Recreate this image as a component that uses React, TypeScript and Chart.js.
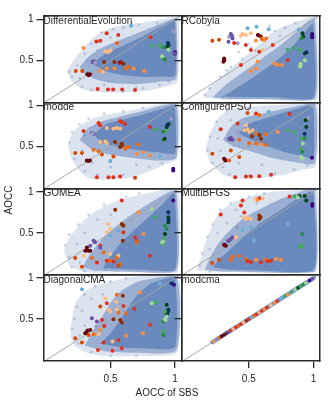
import React, { useEffect, useRef } from 'react';
import { Chart, registerables } from 'chart.js';

Chart.register(...registerables);
Chart.defaults.font.family = "'Liberation Sans', Arial, sans-serif";
Chart.defaults.font.size = 10;

const W = 334;
const H = 400;
const X_MIN = -0.02;
const X_MAX = 1.05;
const Y_MIN = -0.01;
const Y_MAX = 1.04;
const TICK_VALUES = [0.5, 1];
const TICK_LABELS = ['0.5', '1'];
const identityLine = [-0.1, 1.2];
const COL_X = [43.5, 181.5, 320];
const ROW_Y = [16, 102.25, 188.5, 274.75, 361];
const TEXT = '#262626';
const SPINE = '#2b2b2b';
const BLUE = '76,114,176';

const PALETTE: Record<string, string> = {
  dm: '#67000d', br: '#8c2d04', dr: '#a50f15', rd: '#e0301e', or: '#f16913',
  do: '#d94801', lo: '#fd8d3c', sa: '#fdbb84', lb: '#6baed6', pu: '#6a51a3',
  dp: '#3f007d', lp: '#9e9ac8', gr: '#41ab5d', mg: '#238b45', dg: '#00441b',
  lg: '#a1d99b', nv: '#08306b',
};

type P = [number, number, string];
type XY = [number, number];

// ---- DifferentialEvolution ----
const deHalo: XY[] = [[0.16,0.36],[0.22,0.52],[0.3,0.66],[0.38,0.8],[0.48,0.88],[0.6,0.93],[0.75,0.96],[0.9,1.0],[1.0,1.03],[1.03,1.03],[1.02,0.24],[0.92,0.18],[0.78,0.13],[0.6,0.11],[0.42,0.11],[0.28,0.15],[0.2,0.24]];
const deMid: XY[] = [[0.26,0.42],[0.34,0.56],[0.44,0.66],[0.56,0.74],[0.72,0.84],[0.88,0.94],[0.99,1.01],[1.01,0.99],[1.01,0.28],[0.88,0.24],[0.7,0.21],[0.52,0.22],[0.38,0.27],[0.3,0.33]];
const deCore: XY[] = [[0.36,0.46],[0.46,0.58],[0.6,0.68],[0.76,0.8],[0.9,0.92],[0.99,0.99],[1.0,0.95],[1.0,0.32],[0.88,0.3],[0.72,0.3],[0.56,0.33],[0.44,0.38]];
const deDots: XY[] = [[0.2,0.3],[0.24,0.44],[0.3,0.58],[0.35,0.7],[0.43,0.84],[0.52,0.88],[0.6,0.9],[0.72,0.93],[0.18,0.36],[0.28,0.18],[0.35,0.14],[0.6,0.12],[0.75,0.16],[0.88,0.2],[0.95,0.24],[0.66,0.96],[0.86,0.95],[0.26,0.28],[0.32,0.5],[0.4,0.62],[0.5,0.78],[0.45,0.2],[0.7,0.17]];
const dePoints: P[] = [
  [0.66,0.92,'lb'],[0.47,0.83,'rd'],[0.39,0.73,'rd'],[0.42,0.74,'rd'],[0.56,0.81,'rd'],[0.55,0.71,'or'],[0.81,0.78,'rd'],
  [0.48,0.6,'sa'],[0.46,0.61,'sa'],[0.5,0.62,'sa'],[0.29,0.65,'lo'],
  [0.36,0.48,'pu'],[0.37,0.49,'pu'],[0.38,0.47,'lp'],
  [0.45,0.48,'br'],[0.53,0.48,'br'],[0.58,0.48,'br'],[0.6,0.46,'br'],[0.57,0.47,'dr'],
  [0.23,0.37,'do'],[0.28,0.37,'do'],[0.42,0.37,'lo'],[0.47,0.4,'lo'],[0.53,0.4,'lo'],[0.62,0.4,'or'],[0.64,0.42,'or'],[0.68,0.4,'lo'],[0.76,0.37,'lo'],[0.44,0.36,'sa'],
  [0.32,0.33,'dm'],[0.33,0.32,'dm'],[0.34,0.33,'dm'],
  [0.4,0.15,'rd'],[0.48,0.145,'rd'],[0.52,0.145,'rd'],[0.59,0.145,'rd'],[0.69,0.14,'rd'],
  [0.82,0.68,'gr'],[0.88,0.68,'gr'],[0.91,0.66,'mg'],[0.94,0.665,'dg'],[0.95,0.69,'dg'],[0.945,0.71,'nv'],[0.95,0.63,'lg'],[0.91,0.53,'gr'],[0.92,0.51,'mg'],[0.9,0.55,'lg'],
  [1.0,0.6,'dp'],[1.0,0.58,'dp'],[1.0,0.585,'pu'],[0.99,0.85,'lp'],
];

// ---- RCobyla ----
const rcHalo: XY[] = [[0.15,0.05],[0.2,0.18],[0.3,0.32],[0.4,0.46],[0.5,0.58],[0.6,0.72],[0.68,0.84],[0.8,0.93],[0.95,1.02],[1.03,1.03],[1.03,0.02],[0.6,0.02],[0.3,0.02]];
const rcMid: XY[] = [[0.22,0.05],[0.32,0.2],[0.46,0.36],[0.6,0.52],[0.74,0.68],[0.86,0.84],[0.96,0.98],[1.01,1.01],[1.01,0.03],[0.6,0.03],[0.35,0.03]];
const rcCore: XY[] = [[0.3,0.06],[0.42,0.18],[0.56,0.32],[0.7,0.48],[0.82,0.64],[0.92,0.82],[0.99,0.95],[1.0,0.9],[1.0,0.05],[0.7,0.05],[0.45,0.05]];
const rcDots: XY[] = [[0.2,0.16],[0.28,0.3],[0.36,0.42],[0.45,0.52],[0.55,0.62],[0.62,0.75],[0.7,0.86],[0.78,0.9],[0.86,0.95],[0.5,0.7],[0.42,0.6],[0.66,0.92],[0.3,0.05],[0.16,0.08],[0.33,0.38],[0.52,0.66],[0.74,0.8],[0.58,0.82]];
const rcPoints: P[] = [
  [0.49,0.89,'lb'],[0.56,0.91,'lb'],[0.654,0.88,'lb'],[0.885,0.875,'lb'],
  [0.361,0.82,'pu'],[0.348,0.787,'lp'],[0.374,0.767,'pu'],[0.343,0.726,'pu'],[0.413,0.707,'lp'],[0.37,0.8,'pu'],
  [0.218,0.74,'do'],[0.27,0.75,'do'],
  [0.451,0.82,'sa'],[0.477,0.81,'sa'],[0.516,0.83,'sa'],[0.44,0.8,'sa'],
  [0.581,0.8,'br'],[0.594,0.79,'br'],[0.57,0.81,'dm'],
  [0.633,0.767,'or'],[0.555,0.74,'lo'],[0.62,0.745,'lo'],[0.6,0.76,'or'],
  [0.387,0.71,'rd'],[0.477,0.686,'rd'],[0.516,0.625,'rd'],[0.581,0.604,'rd'],[0.607,0.625,'sa'],[0.685,0.686,'rd'],
  [0.309,0.524,'dm'],[0.304,0.482,'dm'],[0.31,0.5,'dm'],
  [0.439,0.442,'rd'],[0.8,0.503,'rd'],
  [0.568,0.482,'lo'],[0.698,0.462,'lo'],[0.724,0.442,'lo'],[0.757,0.442,'lo'],[0.555,0.4,'lo'],[0.516,0.368,'lo'],
  [0.8,0.63,'gr'],[0.848,0.65,'gr'],[0.895,0.63,'gr'],
  [0.915,0.83,'dg'],[0.92,0.79,'dg'],[0.907,0.77,'mg'],[0.933,0.585,'dg'],[0.946,0.6,'nv'],
  [0.9,0.442,'lg'],[0.895,0.422,'lg'],[0.9,0.46,'lg'],[0.933,0.5,'lg'],
  [0.99,0.8,'dp'],[0.99,0.78,'dp'],[0.99,0.82,'dp'],
];

// ---- modde ----
const mdHalo: XY[] = [[0.17,0.5],[0.2,0.66],[0.27,0.76],[0.36,0.84],[0.48,0.89],[0.62,0.93],[0.78,0.98],[0.95,1.03],[1.03,1.03],[1.02,0.36],[0.92,0.28],[0.8,0.2],[0.66,0.12],[0.5,0.1],[0.34,0.11],[0.26,0.2],[0.2,0.34]];
const mdMid: XY[] = [[0.26,0.58],[0.32,0.72],[0.42,0.8],[0.56,0.86],[0.72,0.92],[0.88,0.99],[1.01,1.02],[1.01,0.36],[0.86,0.33],[0.68,0.36],[0.5,0.4],[0.36,0.46]];
const mdCore: XY[] = [[0.37,0.64],[0.46,0.77],[0.6,0.83],[0.75,0.89],[0.9,0.96],[0.99,1.0],[1.0,0.95],[1.0,0.42],[0.86,0.43],[0.7,0.46],[0.56,0.5],[0.44,0.54]];
const mdDots: XY[] = [[0.18,0.55],[0.2,0.68],[0.26,0.77],[0.33,0.84],[0.45,0.9],[0.6,0.93],[0.3,0.2],[0.4,0.16],[0.6,0.16],[0.8,0.25],[0.9,0.3],[0.22,0.35],[0.75,0.97],[0.28,0.45],[0.36,0.3],[0.5,0.25],[0.7,0.28],[0.3,0.64]];
const mdPoints: P[] = [
  [0.407,0.787,'rd'],[0.42,0.759,'rd'],[0.574,0.812,'rd'],[0.587,0.8,'rd'],[0.613,0.775,'rd'],[0.29,0.69,'rd'],
  [0.471,0.726,'sa'],[0.522,0.718,'sa'],[0.548,0.726,'sa'],[0.574,0.718,'sa'],
  [0.368,0.657,'pu'],[0.355,0.665,'pu'],[0.36,0.66,'lp'],
  [0.42,0.555,'sa'],[0.459,0.563,'sa'],[0.471,0.543,'sa'],
  [0.535,0.555,'br'],[0.587,0.535,'br'],[0.574,0.494,'br'],[0.587,0.514,'br'],
  [0.368,0.462,'or'],[0.407,0.445,'or'],[0.626,0.494,'or'],[0.638,0.494,'or'],[0.613,0.474,'or'],[0.716,0.527,'or'],
  [0.226,0.421,'do'],[0.278,0.421,'do'],[0.433,0.405,'do'],[0.522,0.38,'do'],
  [0.703,0.413,'lo'],[0.754,0.433,'lo'],[0.806,0.393,'lo'],
  [0.329,0.324,'dm'],[0.316,0.332,'dm'],[0.34,0.33,'dm'],
  [0.497,0.324,'lb'],[0.883,0.38,'lb'],
  [0.394,0.128,'rd'],[0.484,0.128,'rd'],[0.522,0.128,'rd'],[0.574,0.136,'rd'],[0.69,0.12,'rd'],
  [0.806,0.739,'rd'],
  [0.845,0.706,'gr'],[0.909,0.68,'mg'],[0.935,0.698,'gr'],
  [0.935,0.739,'dg'],[0.95,0.775,'dg'],[0.94,0.76,'nv'],
  [0.909,0.584,'mg'],[0.92,0.596,'dg'],
  [0.986,0.23,'dp'],[0.986,0.21,'dp'],[0.97,0.841,'lp'],
];

// ---- ConfiguredPSO ----
const cpHalo: XY[] = [[0.17,0.48],[0.2,0.66],[0.27,0.86],[0.38,0.96],[0.55,0.99],[0.75,1.01],[1.03,1.03],[1.02,0.26],[0.92,0.22],[0.78,0.16],[0.6,0.12],[0.42,0.11],[0.3,0.16],[0.2,0.3]];
const cpMid: XY[] = [[0.3,0.58],[0.36,0.74],[0.46,0.85],[0.62,0.91],[0.8,0.97],[1.01,1.02],[1.01,0.3],[0.86,0.31],[0.68,0.36],[0.52,0.44],[0.38,0.5]];
const cpCore: XY[] = [[0.42,0.66],[0.5,0.78],[0.62,0.84],[0.8,0.93],[0.98,1.0],[1.0,0.95],[1.0,0.37],[0.9,0.39],[0.78,0.43],[0.65,0.5],[0.52,0.58]];
const cpDots: XY[] = [[0.18,0.45],[0.2,0.62],[0.25,0.8],[0.33,0.93],[0.5,0.98],[0.3,0.25],[0.35,0.16],[0.5,0.15],[0.7,0.17],[0.85,0.22],[0.95,0.27],[0.22,0.3],[0.28,0.45],[0.26,0.6],[0.42,0.3],[0.6,0.28],[0.36,0.82]];
const cpPoints: P[] = [
  [0.49,0.91,'do'],[0.556,0.904,'rd'],[0.581,0.884,'or'],[0.654,0.92,'lb'],[0.815,0.896,'rd'],
  [0.413,0.78,'rd'],[0.283,0.71,'rd'],[0.478,0.76,'sa'],
  [0.348,0.597,'pu'],[0.361,0.605,'pu'],[0.374,0.585,'pu'],[0.355,0.59,'pu'],[0.413,0.677,'lp'],
  [0.465,0.7,'sa'],[0.49,0.71,'sa'],[0.503,0.677,'sa'],[0.529,0.7,'sa'],
  [0.524,0.625,'br'],[0.581,0.64,'br'],[0.594,0.597,'br'],
  [0.556,0.657,'or'],[0.633,0.65,'or'],[0.724,0.677,'lo'],[0.426,0.585,'or'],
  [0.503,0.543,'or'],[0.556,0.537,'or'],[0.594,0.53,'lo'],[0.633,0.52,'or'],
  [0.309,0.353,'dm'],[0.322,0.332,'dm'],[0.315,0.34,'dm'],
  [0.218,0.414,'do'],[0.361,0.454,'do'],[0.426,0.373,'do'],[0.348,0.332,'or'],
  [0.395,0.128,'rd'],[0.478,0.136,'rd'],[0.516,0.136,'rd'],[0.581,0.14,'rd'],[0.672,0.156,'rd'],
  [0.802,0.7,'gr'],[0.853,0.677,'gr'],[0.905,0.597,'gr'],[0.931,0.605,'mg'],
  [0.939,0.82,'dg'],[0.944,0.74,'dg'],[0.931,0.657,'nv'],
  [0.918,0.537,'lg'],[0.905,0.474,'gr'],[0.913,0.434,'mg'],[0.905,0.373,'lg'],[0.913,0.353,'lg'],
  [0.988,0.365,'dp'],[0.96,0.85,'lp'],
];

// ---- GOMEA ----
const gmHalo: XY[] = [[0.14,0.28],[0.18,0.44],[0.26,0.6],[0.36,0.74],[0.48,0.84],[0.62,0.92],[0.78,0.98],[0.95,1.03],[1.03,1.03],[1.02,0.02],[0.6,0.02],[0.3,0.02],[0.18,0.1]];
const gmMid: XY[] = [[0.28,0.08],[0.34,0.24],[0.42,0.4],[0.52,0.55],[0.66,0.72],[0.82,0.88],[0.96,1.0],[1.01,1.02],[1.01,0.04],[0.6,0.03],[0.38,0.04]];
const gmCore: XY[] = [[0.44,0.07],[0.5,0.22],[0.58,0.38],[0.68,0.53],[0.8,0.7],[0.92,0.88],[0.99,0.99],[1.0,0.95],[1.0,0.06],[0.75,0.05]];
const gmDots: XY[] = [[0.15,0.35],[0.18,0.48],[0.25,0.6],[0.33,0.72],[0.45,0.84],[0.58,0.9],[0.72,0.98],[0.2,0.08],[0.3,0.04],[0.18,0.2],[0.4,0.66],[0.62,0.94],[0.24,0.36],[0.3,0.5],[0.5,0.72],[0.26,0.14]];
const gmPoints: P[] = [
  [0.587,0.894,'rd'],[0.536,0.78,'br'],[0.716,0.75,'lo'],[0.819,0.79,'lg'],
  [0.986,0.894,'dp'],[0.948,0.75,'nv'],[0.948,0.628,'dg'],[0.948,0.69,'dg'],[0.95,0.66,'nv'],
  [0.845,0.69,'gr'],[0.922,0.588,'mg'],[0.935,0.547,'mg'],[0.922,0.486,'dg'],[0.909,0.405,'lg'],[0.909,0.364,'gr'],[0.901,0.385,'lg'],[0.915,0.43,'gr'],
  [0.484,0.608,'sa'],[0.497,0.547,'sa'],[0.471,0.506,'sa'],
  [0.587,0.608,'br'],[0.6,0.588,'br'],[0.595,0.405,'br'],
  [0.561,0.527,'lb'],[0.497,0.466,'lb'],
  [0.6,0.506,'rd'],[0.69,0.446,'rd'],[0.703,0.405,'rd'],[0.42,0.344,'rd'],
  [0.755,0.486,'lo'],[0.703,0.385,'or'],
  [0.368,0.405,'pu'],[0.381,0.385,'pu'],[0.342,0.344,'pu'],[0.42,0.323,'pu'],
  [0.316,0.323,'dm'],[0.329,0.283,'dm'],[0.304,0.283,'dm'],[0.342,0.283,'dm'],
  [0.291,0.222,'sa'],[0.497,0.242,'sa'],[0.561,0.222,'sa'],
  [0.226,0.193,'do'],[0.355,0.193,'or'],[0.548,0.193,'or'],[0.497,0.161,'or'],[0.446,0.262,'or'],[0.574,0.12,'or'],
  [0.394,0.14,'rd'],[0.471,0.161,'rd'],[0.523,0.152,'rd'],[0.806,0.222,'rd'],
  [0.278,0.088,'do'],[0.561,0.1,'do'],
];

// ---- MultiBFGS ----
const mbHalo: XY[] = [[0.1,0.04],[0.13,0.2],[0.17,0.4],[0.22,0.6],[0.28,0.76],[0.38,0.87],[0.52,0.95],[0.68,1.0],[1.03,1.03],[1.02,0.02],[0.3,0.02]];
const mbMid: XY[] = [[0.16,0.05],[0.2,0.2],[0.27,0.38],[0.36,0.54],[0.46,0.68],[0.6,0.8],[0.76,0.92],[0.94,1.02],[1.01,1.02],[1.01,0.03],[0.3,0.03]];
const mbCore: XY[] = [[0.22,0.08],[0.3,0.22],[0.4,0.36],[0.48,0.49],[0.6,0.63],[0.74,0.77],[0.86,0.9],[0.97,1.0],[1.0,0.97],[1.0,0.05],[0.6,0.04],[0.35,0.05]];
const mbDots: XY[] = [[0.12,0.1],[0.14,0.25],[0.18,0.45],[0.22,0.6],[0.28,0.78],[0.36,0.86],[0.5,0.94],[0.62,0.98],[0.2,0.03],[0.26,0.5],[0.4,0.78],[0.33,0.62],[0.44,0.7],[0.2,0.3],[0.56,0.86]];
const mbPoints: P[] = [
  [0.452,0.893,'rd'],[0.556,0.914,'sa'],[0.581,0.922,'rd'],[0.607,0.922,'sa'],[0.568,0.9,'lo'],[0.815,0.942,'rd'],[0.853,0.942,'gr'],[0.892,0.95,'dg'],[0.88,0.93,'lg'],
  [0.439,0.832,'rd'],[0.283,0.723,'rd'],[0.465,0.747,'rd'],
  [0.465,0.69,'sa'],[0.478,0.67,'sa'],[0.49,0.69,'sa'],[0.516,0.67,'sa'],
  [0.581,0.71,'br'],[0.581,0.67,'br'],[0.59,0.69,'br'],
  [0.413,0.568,'lp'],[0.452,0.535,'lb'],[0.516,0.568,'lb'],
  [0.361,0.426,'pu'],[0.348,0.406,'pu'],[0.374,0.446,'pu'],[0.34,0.4,'pu'],
  [0.309,0.356,'dm'],[0.322,0.344,'dm'],[0.315,0.35,'dm'],
  [0.4,0.446,'sa'],[0.541,0.406,'lb'],
  [0.426,0.222,'or'],[0.374,0.21,'or'],[0.361,0.17,'or'],[0.478,0.181,'or'],[0.556,0.173,'lo'],[0.633,0.173,'or'],[0.711,0.181,'lo'],[0.75,0.173,'lo'],
  [0.49,0.153,'rd'],[0.516,0.145,'rd'],[0.594,0.141,'rd'],[0.646,0.153,'rd'],[0.672,0.161,'rd'],
  [0.218,0.133,'do'],[0.27,0.173,'do'],
  [0.913,0.486,'mg'],[0.905,0.356,'gr'],[0.913,0.335,'gr'],[0.897,0.327,'gr'],
  [0.931,0.95,'dg'],[0.944,0.893,'dg'],
  [0.991,0.85,'dp'],[0.991,0.83,'dp'],[0.802,0.609,'lb'],
];

// ---- DiagonalCMA ----
const dcHalo: XY[] = [[0.19,0.28],[0.2,0.5],[0.23,0.7],[0.3,0.84],[0.42,0.92],[0.56,0.98],[0.7,1.02],[1.03,1.03],[1.02,0.1],[0.7,0.05],[0.45,0.05],[0.3,0.1],[0.22,0.18]];
const dcMid: XY[] = [[0.3,0.18],[0.36,0.34],[0.43,0.52],[0.5,0.7],[0.58,0.84],[0.72,0.96],[1.01,1.02],[1.01,0.12],[0.7,0.09],[0.45,0.11]];
const dcCore: XY[] = [[0.42,0.2],[0.5,0.33],[0.57,0.48],[0.63,0.62],[0.7,0.78],[0.8,0.92],[0.92,0.99],[1.0,1.0],[1.0,0.16],[0.8,0.14],[0.6,0.15]];
const dcDots: XY[] = [[0.2,0.38],[0.22,0.5],[0.24,0.65],[0.3,0.8],[0.38,0.9],[0.5,0.96],[0.62,1.0],[0.25,0.2],[0.35,0.1],[0.5,0.05],[0.7,0.05],[0.28,0.6],[0.35,0.75],[0.3,0.42],[0.44,0.8],[0.26,0.3]];
const dcPoints: P[] = [
  [0.278,0.865,'lb'],[0.883,0.93,'lb'],[0.991,0.918,'dp'],[0.973,0.938,'nv'],
  [0.549,0.796,'or'],[0.595,0.784,'br'],[0.729,0.824,'lo'],[0.458,0.755,'sa'],[0.544,0.71,'sa'],
  [0.852,0.702,'gr'],[0.819,0.694,'lg'],
  [0.471,0.694,'rd'],[0.6,0.661,'rd'],[0.685,0.625,'rd'],
  [0.484,0.613,'sa'],[0.497,0.593,'sa'],[0.549,0.62,'sa'],
  [0.561,0.58,'or'],[0.62,0.572,'or'],[0.42,0.653,'do'],
  [0.935,0.674,'dg'],[0.948,0.613,'dg'],[0.94,0.572,'dg'],[0.935,0.552,'dg'],[0.945,0.6,'nv'],
  [0.922,0.593,'gr'],[0.909,0.47,'mg'],[0.935,0.532,'lg'],[0.927,0.49,'lg'],[0.922,0.498,'lg'],
  [0.909,0.348,'gr'],[0.909,0.308,'mg'],
  [0.355,0.51,'pu'],[0.394,0.47,'pu'],[0.389,0.409,'lp'],
  [0.523,0.498,'br'],[0.587,0.458,'br'],[0.574,0.49,'br'],
  [0.433,0.49,'rd'],[0.451,0.417,'rd'],[0.806,0.43,'rd'],
  [0.311,0.336,'dm'],[0.322,0.36,'dm'],[0.342,0.368,'dm'],[0.304,0.328,'dm'],
  [0.226,0.268,'do'],[0.278,0.214,'do'],[0.329,0.308,'do'],
  [0.42,0.368,'lo'],[0.407,0.316,'sa'],[0.368,0.316,'or'],[0.515,0.226,'sa'],[0.62,0.296,'lo'],[0.75,0.328,'lo'],
  [0.402,0.124,'rd'],[0.515,0.116,'rd'],[0.587,0.145,'rd'],[0.446,0.214,'rd'],[0.561,0.247,'rd'],
];

// ---- modcma (SBS itself: on the identity line) ----
const mcBand = [0.22, 0.35, 0.5, 0.65, 0.8, 0.9, 1.0];
const mcPoints: P[] = [
  [0.23,0.23,'lo'],[0.27,0.27,'or'],[0.29,0.29,'dm'],[0.31,0.31,'dm'],[0.33,0.33,'dm'],[0.34,0.34,'pu'],[0.36,0.36,'rd'],
  [0.38,0.38,'sa'],[0.4,0.4,'rd'],[0.42,0.42,'or'],[0.44,0.44,'rd'],[0.46,0.46,'sa'],[0.48,0.48,'br'],[0.5,0.5,'rd'],
  [0.52,0.52,'lb'],[0.54,0.54,'or'],[0.56,0.56,'rd'],[0.58,0.58,'sa'],[0.6,0.6,'rd'],[0.62,0.62,'lo'],[0.64,0.64,'rd'],
  [0.67,0.67,'sa'],[0.7,0.7,'lo'],[0.72,0.72,'rd'],[0.75,0.75,'lb'],[0.78,0.78,'gr'],[0.8,0.8,'lo'],[0.83,0.83,'gr'],
  [0.86,0.86,'lg'],[0.88,0.88,'dg'],[0.9,0.9,'gr'],[0.92,0.92,'mg'],[0.94,0.94,'lg'],[0.97,0.97,'dp'],[0.99,0.99,'pu'],
];

const PANELS = [
  { name: 'DifferentialEvolution', col: 0, row: 0, halo: deHalo, mid: deMid, core: deCore, dots: deDots, points: dePoints, band: null as number[] | null },
  { name: 'modde', col: 0, row: 1, halo: mdHalo, mid: mdMid, core: mdCore, dots: mdDots, points: mdPoints, band: null },
  { name: 'GOMEA', col: 0, row: 2, halo: gmHalo, mid: gmMid, core: gmCore, dots: gmDots, points: gmPoints, band: null },
  { name: 'DiagonalCMA', col: 0, row: 3, halo: dcHalo, mid: dcMid, core: dcCore, dots: dcDots, points: dcPoints, band: null },
  { name: 'RCobyla', col: 1, row: 0, halo: rcHalo, mid: rcMid, core: rcCore, dots: rcDots, points: rcPoints, band: null },
  { name: 'ConfiguredPSO', col: 1, row: 1, halo: cpHalo, mid: cpMid, core: cpCore, dots: cpDots, points: cpPoints, band: null },
  { name: 'MultiBFGS', col: 1, row: 2, halo: mbHalo, mid: mbMid, core: mbCore, dots: mbDots, points: mbPoints, band: null },
  { name: 'modcma', col: 1, row: 3, halo: [] as XY[], mid: [] as XY[], core: [] as XY[], dots: [] as XY[], points: mcPoints, band: mcBand },
];

const zeroPads = (s: any) => { s.paddingLeft = 0; s.paddingRight = 0; s.paddingTop = 0; s.paddingBottom = 0; };
const fitW = (w: number) => (s: any) => { s.width = w; zeroPads(s); };
const fitH = (h: number) => (s: any) => { s.height = h; zeroPads(s); };
const setTicks = (s: any) => { s.ticks = TICK_VALUES.map((v) => ({ value: v })); };
const tickLabel = (v: any) => { const i = TICK_VALUES.indexOf(Number(v)); return i >= 0 ? TICK_LABELS[i] : ''; };

function polygon(pts: XY[], alpha: number, order: number) {
  return {
    data: pts.map(([x, y]) => ({ x, y })),
    showLine: true,
    fill: 'shape',
    backgroundColor: `rgba(${BLUE},${alpha})`,
    borderColor: 'rgba(0,0,0,0)',
    borderWidth: 0,
    pointRadius: 0,
    pointHoverRadius: 0,
    tension: 0.2,
    order,
  };
}

function panelConfig(p: (typeof PANELS)[number]): any {
  const left = COL_X[p.col];
  const right = COL_X[p.col + 1];
  const top = ROW_Y[p.row];
  const bottom = ROW_Y[p.row + 1];
  const bottomRow = p.row === 3;
  const leftCol = p.col === 0;
  // axes that carry labels get a real box (labels are clipped to it)
  const yAxisW = leftCol ? left : 0;
  const xAxisH = bottomRow ? H - bottom : 0;
  const spine = { display: true, color: SPINE, width: 1.5, z: 1 };
  const datasets: any[] = [
    {
      data: p.points.map(([x, y]) => ({ x, y })),
      backgroundColor: p.points.map((q) => PALETTE[q[2]]),
      borderWidth: 0,
      pointRadius: p.band ? 1.8 : 2.0,
      pointHoverRadius: 2.0,
      order: 0,
    },
    {
      data: identityLine.map((v) => ({ x: v, y: v })),
      showLine: true,
      borderColor: 'rgba(165,165,165,0.95)',
      borderWidth: 1,
      pointRadius: 0,
      pointHoverRadius: 0,
      order: 2,
    },
    {
      data: p.dots.map(([x, y]) => ({ x, y })),
      backgroundColor: `rgba(${BLUE},0.3)`,
      borderWidth: 0,
      pointRadius: 1.4,
      order: 3,
    },
    polygon(p.core, 0.62, 4),
    polygon(p.mid, 0.45, 5),
    polygon(p.halo, 0.2, 6),
  ];
  if (p.band) {
    datasets.push({
      data: p.band.map((v) => ({ x: v, y: v })),
      showLine: true,
      borderColor: `rgba(${BLUE},0.7)`,
      borderWidth: 4.5,
      borderCapStyle: 'round',
      pointRadius: 0,
      pointHoverRadius: 0,
      order: 1,
    });
  }
  return {
    type: 'scatter',
    data: { datasets },
    options: {
      responsive: false,
      animation: false,
      events: [],
      layout: { padding: { left: left - yAxisW, top, right: W - right, bottom: H - bottom - xAxisH } },
      plugins: { legend: { display: false }, tooltip: { enabled: false } },
      scales: {
        x: {
          type: 'linear', position: 'bottom', min: X_MIN, max: X_MAX,
          afterBuildTicks: setTicks, afterFit: fitH(xAxisH),
          grid: { display: bottomRow, drawOnChartArea: false, drawTicks: true, tickLength: 7, color: SPINE, lineWidth: 1.3 },
          ticks: { display: bottomRow, padding: 5, color: TEXT, font: { size: 10 }, autoSkip: false, maxRotation: 0, callback: tickLabel },
          border: spine,
        },
        y: {
          type: 'linear', position: 'left', min: Y_MIN, max: Y_MAX,
          afterBuildTicks: setTicks, afterFit: fitW(yAxisW),
          grid: { display: true, drawOnChartArea: false, drawTicks: true, tickLength: 7, color: SPINE, lineWidth: 1.3 },
          ticks: { display: leftCol, padding: 3, color: TEXT, font: { size: 10 }, autoSkip: false, callback: tickLabel },
          border: spine,
        },
        xTop: {
          type: 'linear', position: 'top', min: X_MIN, max: X_MAX, afterFit: fitH(0),
          grid: { display: false, z: 1 }, ticks: { display: false },
          border: spine,
          title: { display: true, text: p.name, align: 'start', color: TEXT, font: { size: 10, lineHeight: 1 }, padding: { top: 0, bottom: 0 } },
        },
        yRight: {
          type: 'linear', position: 'right', min: Y_MIN, max: Y_MAX, afterFit: fitW(0),
          grid: { display: false }, ticks: { display: false },
          border: spine,
        },
      },
    },
  };
}

function labelConfig(): any {
  return {
    type: 'scatter',
    data: { datasets: [] },
    options: {
      responsive: false,
      animation: false,
      events: [],
      layout: { padding: { left: 3.5, top: 10, right: 30, bottom: 0 } },
      plugins: { legend: { display: false }, tooltip: { enabled: false } },
      scales: {
        x: {
          type: 'linear', position: 'bottom', min: 0, max: 1, afterFit: fitH(10),
          grid: { display: false }, ticks: { display: false }, border: { display: false },
          title: { display: true, text: 'AOCC of SBS', color: TEXT, font: { size: 10 }, padding: { top: 0, bottom: 1 } },
        },
        y: {
          type: 'linear', position: 'left', min: 0, max: 1, afterFit: fitW(26.5),
          grid: { display: false }, ticks: { display: false }, border: { display: false },
          title: { display: true, text: 'AOCC', color: TEXT, font: { size: 10 }, padding: { top: 0, bottom: 0 } },
        },
      },
    },
  };
}

export default function App() {
  const refs = useRef<(HTMLCanvasElement | null)[]>([]);
  useEffect(() => {
    const charts: Chart[] = [];
    PANELS.forEach((p, i) => {
      const c = refs.current[i];
      if (c) charts.push(new Chart(c, panelConfig(p)));
    });
    const lc = refs.current[PANELS.length];
    if (lc) charts.push(new Chart(lc, labelConfig()));
    return () => charts.forEach((ch) => ch.destroy());
  }, []);
  const slots = [...PANELS.map((p) => p.name), 'labels'];
  return (
    <div style={{ position: 'fixed', left: 0, top: 0, width: W, height: H, background: '#ffffff' }}>
      {slots.map((k, i) => (
        <canvas
          key={k}
          ref={(el) => { refs.current[i] = el; }}
          width={W}
          height={H}
          style={{ position: 'absolute', left: 0, top: 0, width: W, height: H }}
        />
      ))}
    </div>
  );
}
